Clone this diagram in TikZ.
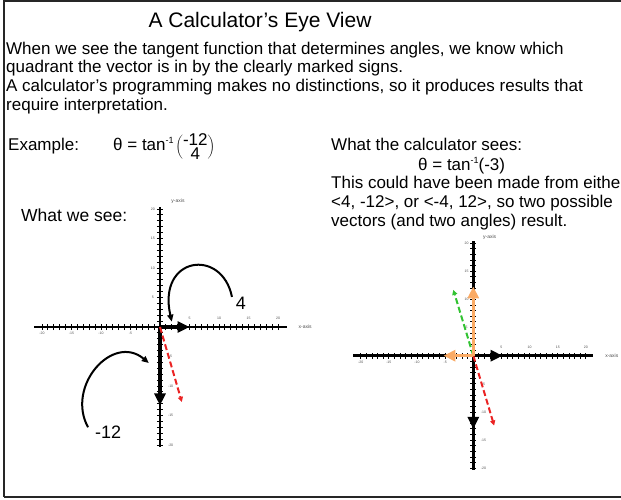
\documentclass[tikz,border=0pt]{standalone}
\usepackage{fontspec}
\setmainfont{Liberation Sans}
\usetikzlibrary{arrows.meta}

\definecolor{vecred}{RGB}{235,35,35}
\definecolor{vecgreen}{RGB}{50,195,50}
\definecolor{vecorange}{RGB}{250,170,100}

\begin{document}
\begin{tikzpicture}[x=1pt, y=1pt,
    txt/.style={anchor=base west, inner sep=0pt, font=\fontsize{17}{19}\selectfont},
    axis/.style={line width=2.5pt},
    tick/.style={line width=0.9pt},
    ticklbl/.style={inner sep=0pt, font=\fontsize{3.5}{4}\selectfont, text=black!70},
    axlbl/.style={inner sep=0pt, font=\fontsize{5}{6}\selectfont, text=black!70},
    vec/.style={line width=3.5pt, -{Triangle[length=12pt,width=11pt]}},
    dvec/.style={line width=2pt, dash pattern=on 6pt off 3pt, -{Triangle[length=5pt,width=5pt]}},
    curv/.style={line width=2pt, -{Triangle[length=7pt,width=6pt]}},
    numlbl/.style={inner sep=0pt, font=\fontsize{18}{20}\selectfont}]
  \useasboundingbox (0,0) rectangle (621,500);
  \clip (0,0) rectangle (621,500);
  % Frame
  \draw[line width=2pt, black!85] (4,3) -- (4,499) -- (640,499);
  \draw[line width=2pt, black!85] (4,3) -- (640,3);
  % Texts
  \node[anchor=base, inner sep=0pt, font=\fontsize{21}{24}\selectfont] (title) at (260,472) {A Calculator's Eye View};
  \node[txt] (l1) at (6,445) {When we see the tangent function that determines angles, we know which};
  \node[txt] (l2) at (6,427) {quadrant the vector is in by the clearly marked signs.};
  \node[txt] (l3) at (6,408) {A calculator's programming makes no distinctions, so it produces results that};
  \node[txt] (l4) at (6,389) {require interpretation.};
  \node[txt] (ex) at (8,349) {Example:};
  \node[txt] (eq1) at (113,349) {θ = tan\raisebox{7pt}{\fontsize{9}{9}\selectfont -1}\hspace{2pt}$\left(\vcenter{\hbox{\fontsize{17}{17}\selectfont\shortstack{-12\\4}}}\right)$};
  \node[txt] (calc) at (331,349) {What the calculator sees:};
  \node[txt] (eq2) at (418,329) {θ = tan\raisebox{7pt}{\fontsize{9}{9}\selectfont -1}(-3)};
  \node[txt] (c1) at (331,311) {This could have been made from either};
  \node[txt] (c2) at (331,292) {<4, -12>, or <-4, 12>, so two possible};
  \node[txt] (c3) at (331,273) {vectors (and two angles) result.};
  \node[txt, font=\fontsize{17.5}{20}\selectfont] (wesee) at (21,278) {What we see:};

  % What we see
  \begin{scope}[shift={(160pt,173pt)}, x=5.9pt, y=5.9pt]
    \coordinate (o1) at (0,0);
    \coordinate (xl1) at (-21.3,0);
    \coordinate (xr1) at (21.5,0);
    \coordinate (yt1) at (0,20.3);
    \coordinate (yb1) at (0,-20.3);
    % Axes
    \draw[axis] (xl1) -- (xr1);
    \draw[axis] (yb1) -- (yt1);
    \foreach \i in {-20,...,20} {
      \draw[tick] (\i,-0.55) -- (\i,0.55);
      \draw[tick] (-0.55,\i) -- (0.55,\i);
    }
    \foreach \i in {5,10,15,20} {
      \node[ticklbl] at (\i,1.5) {\i};
      \node[ticklbl] at (-1.2,\i) {\i};
    }
    \foreach \i in {-20,-15,-10,-5} {
      \node[ticklbl] at (\i,-1.1) {\i};
      \node[ticklbl] at (1.8,\i) {\i};
    }
    \node[axlbl] (xa1) at (24.6,0) {x-axis};
    \node[axlbl] (ya1) at (3.05,21.4) {y-axis};
    % Vectors
    \coordinate (a1) at (5,0);
    \coordinate (b1) at (0,-13.3);
    \coordinate (r1) at (3.7,-12.7);
    \draw[vec] (o1) -- (a1);
    \draw[vec] (o1) -- (b1);
    \draw[dvec, vecred] (o1) -- (r1);
    % Components
    \node[numlbl] (four) at (13.7,4.0) {4};
    \coordinate (c4s) at (12.2,5.1);
    \coordinate (c4e) at (2,0.9);
    \draw[curv] (c4s) .. controls (10.5,13.5) and (-0.5,12) .. (c4e);
    \node[numlbl] (m12) at (-8.8,-17.9) {-12};
    \coordinate (c12s) at (-12.2,-17);
    \coordinate (c12e) at (-1.9,-6.1);
    \draw[curv] (c12s) .. controls (-16,-10) and (-8,-1) .. (c12e);
  \end{scope}

  % What the calculator sees
  \begin{scope}[shift={(473.3pt,144.3pt)}, x=5.63pt, y=5.63pt]
    \coordinate (o2) at (0,0);
    \coordinate (xl2) at (-21.3,0);
    \coordinate (xr2) at (21.3,0);
    \coordinate (yt2) at (0,20.4);
    \coordinate (yb2) at (0,-20.3);
    % Axes
    \draw[axis] (xl2) -- (xr2);
    \draw[axis] (yb2) -- (yt2);
    \foreach \i in {-20,...,20} {
      \draw[tick] (\i,-0.55) -- (\i,0.55);
      \draw[tick] (-0.55,\i) -- (0.55,\i);
    }
    \foreach \i in {5,10,15,20} {
      \node[ticklbl] at (\i,1.5) {\i};
      \node[ticklbl] at (-1.2,\i) {\i};
    }
    \foreach \i in {-20,-15,-10,-5} {
      \node[ticklbl] at (\i,-1.1) {\i};
      \node[ticklbl] at (1.8,\i) {\i};
    }
    \node[axlbl] (xa2) at (24.6,0) {x-axis};
    \node[axlbl] (ya2) at (2.9,21.1) {y-axis};
    % Vectors
    \coordinate (a2) at (5.2,0);
    \coordinate (b2) at (0,-13);
    \coordinate (r2) at (3.7,-12.4);
    \coordinate (g2) at (-3.55,11.7);
    \coordinate (u2) at (0,12.3);
    \coordinate (l2) at (-5.3,0);
    \draw[vec] (o2) -- (a2);
    \draw[vec] (o2) -- (b2);
    \draw[dvec, vecred] (o2) -- (r2);
    \draw[dvec, vecgreen] (o2) -- (g2);
    \draw[vec, vecorange] (o2) -- (u2);
    \draw[vec, vecorange] (o2) -- (l2);
  \end{scope}
\end{tikzpicture}
\end{document}
